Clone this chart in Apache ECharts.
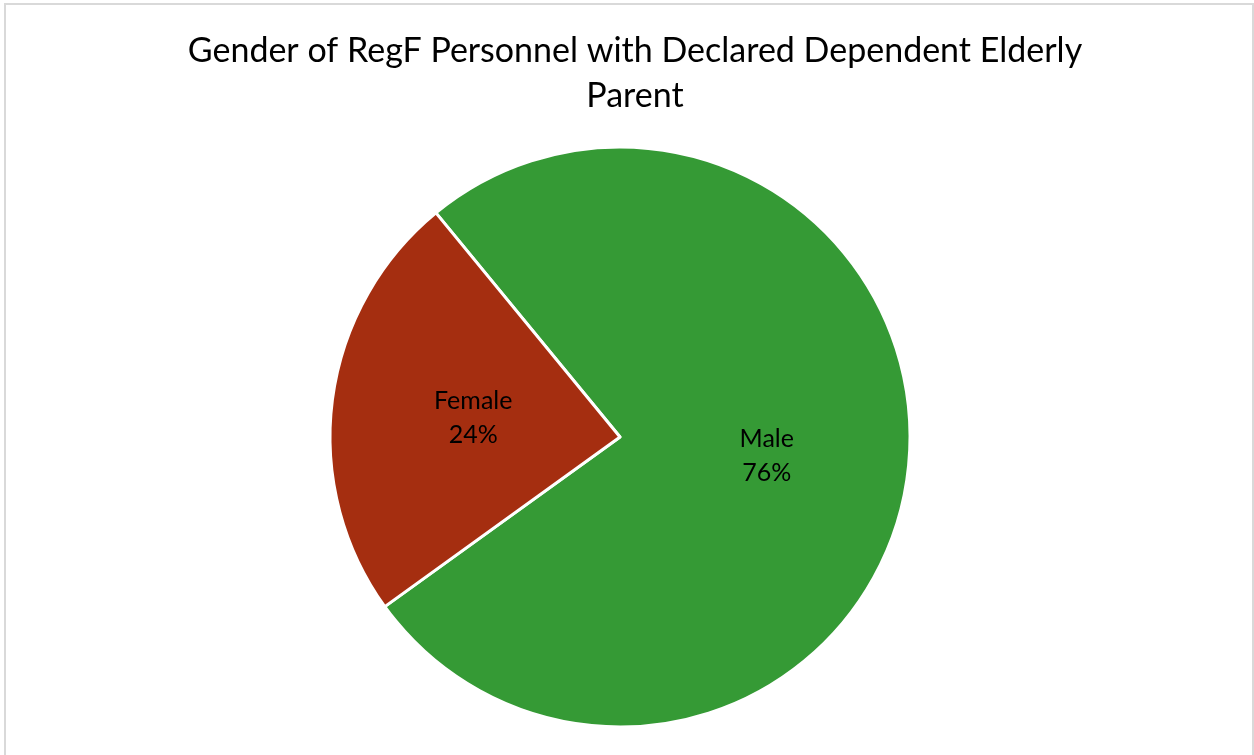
<!DOCTYPE html>
<html>
<head>
<meta charset="utf-8">
<script src="https://cdn.jsdelivr.net/npm/echarts@6/dist/echarts.min.js"></script>
<style>
  html, body { margin: 0; padding: 0; background: #fff; }
  #main { position: absolute; left: 0; top: 0; width: 1254px; height: 755px; }
  #frame { position: absolute; left: 4px; top: 3px; width: 1246px; height: 770px;
           border: 2px solid #d9d9d9; pointer-events: none; }
</style>
</head>
<body>
<div id="main"></div>
<div id="frame"></div>
<script>
var categories = ['Male', 'Female'];
var values = [76, 24];
var colors = ['#359a35', '#a52e10'];

var myChart = echarts.init(document.getElementById('main'));

var option = {
    animation: false,
    title: {
        text: 'Gender of RegF Personnel with Declared Dependent Elderly\nParent',
        left: 630,
        textAlign: 'center',
        top: 24,
        textStyle: {
            fontFamily: 'Lato',
            fontWeight: 'normal',
            fontSize: 34,
            lineHeight: 45,
            color: '#000'
        }
    },
    series: [
        {
            type: 'pie',
            center: [620, 437],
            radius: 290,
            startAngle: 129.4,
            clockwise: true,
            itemStyle: {
                borderColor: '#fff',
                borderWidth: 3
            },
            label: {
                position: 'inside',
                formatter: '{b}\n{d}%',
                fontFamily: 'Lato',
                fontSize: 25,
                lineHeight: 34,
                color: '#000'
            },
            labelLine: { show: false },
            data: categories.map(function (c, i) {
                return { name: c, value: values[i], itemStyle: { color: colors[i] } };
            })
        }
    ]
};

myChart.setOption(option, true);
</script>
</body>
</html>
